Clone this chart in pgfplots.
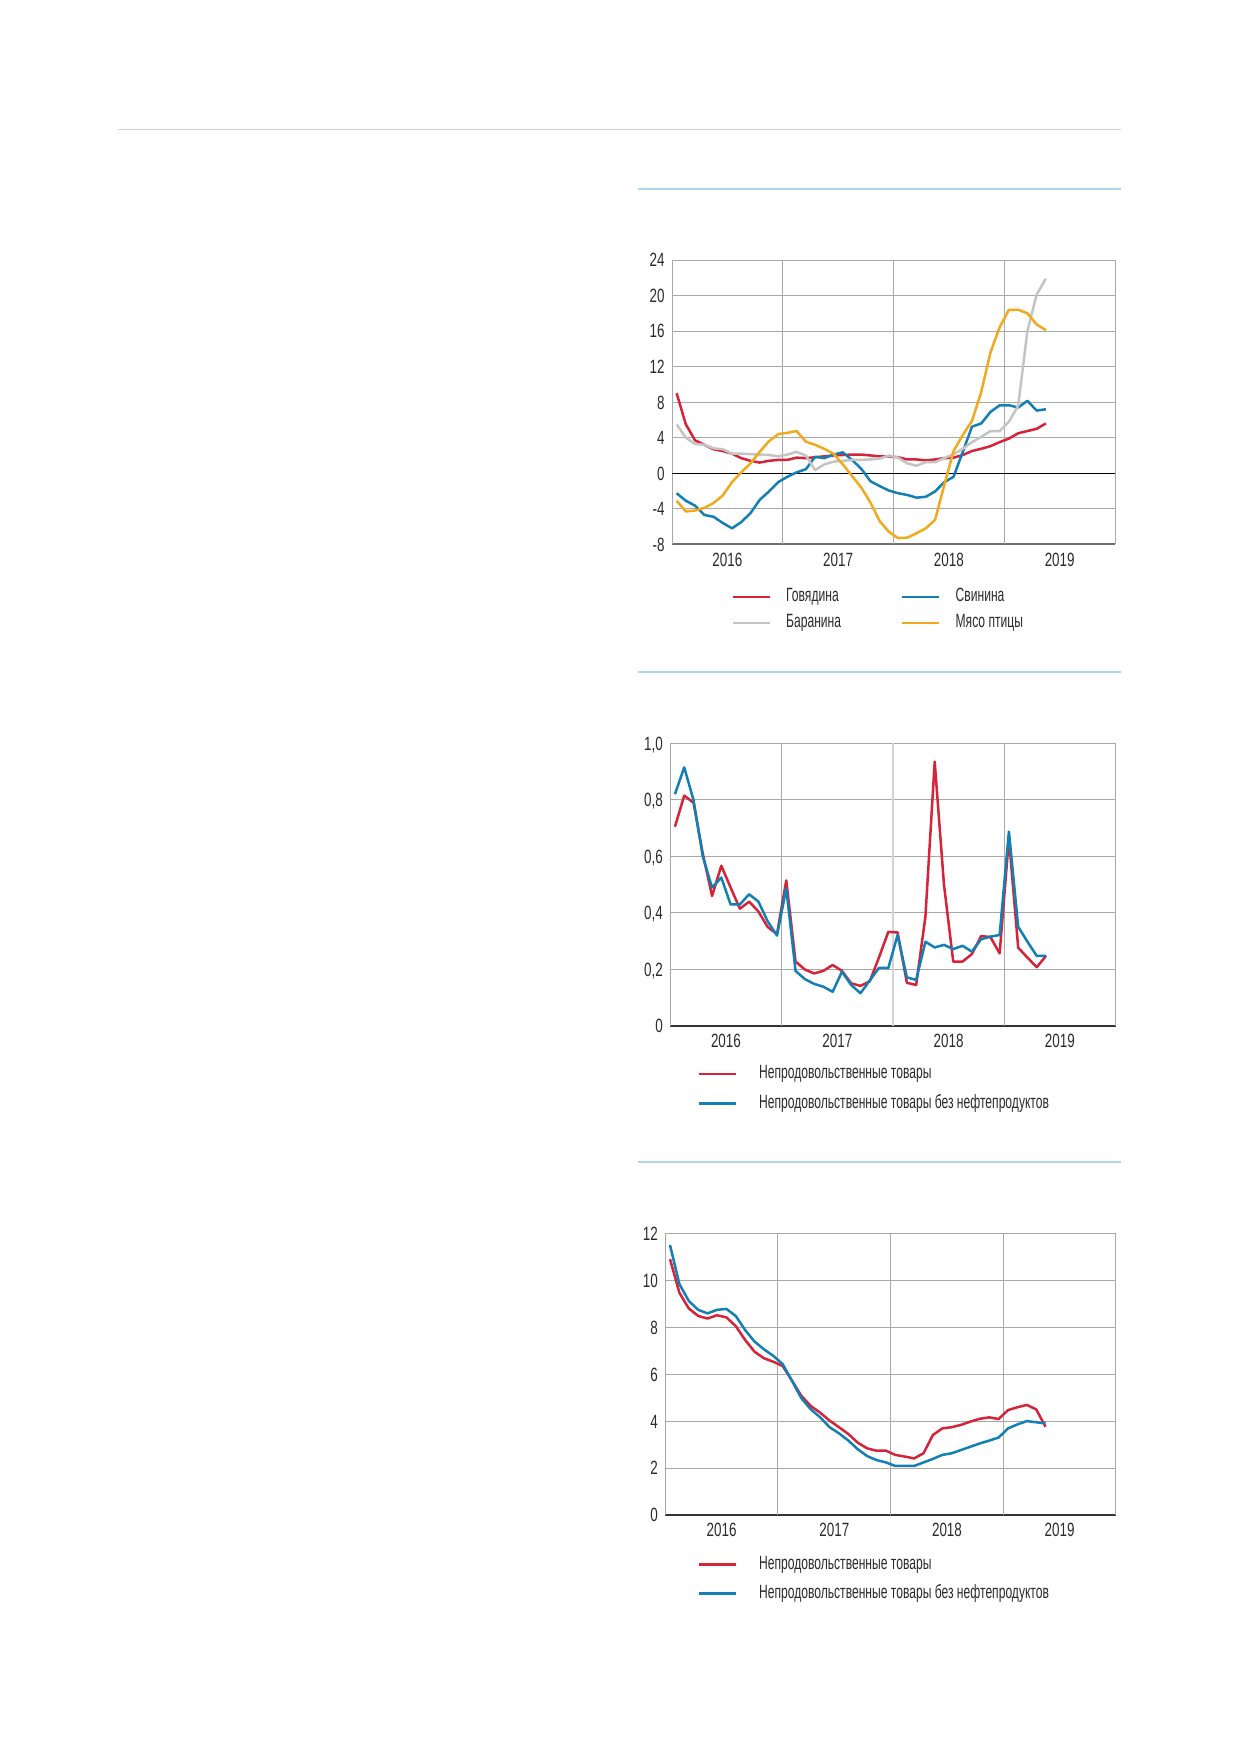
\documentclass[border=0pt]{standalone}
\usepackage{fontspec}
\setmainfont{Liberation Sans}[FakeStretch=0.70]
\newfontfamily\tickfont{Liberation Sans}[FakeStretch=0.70]
\newfontfamily\legfont{Liberation Sans}[FakeStretch=0.63]
\usepackage{pgfplots}
\pgfplotsset{compat=1.18}
\usepackage{pgfplotstable}

\definecolor{cRed}{HTML}{D7233A}
\definecolor{cBlue}{HTML}{1380B5}
\definecolor{cGrey}{HTML}{C4C4C4}
\definecolor{cYel}{HTML}{F2A91E}
\definecolor{ruleBlue}{HTML}{AED6EA}
\definecolor{ruleGrey}{HTML}{D2D2D2}
\definecolor{gridc}{HTML}{A8A8A8}
\definecolor{lightgridc}{HTML}{D4D4D4}
\definecolor{txt}{HTML}{2B2B2B}
\definecolor{axdark}{HTML}{333333}
\definecolor{axmid}{HTML}{707070}

\pgfplotstableread{
x gov svi bar pti
0.5 9.0 -2.25 5.5 -3.1
1.5 5.5 -3.1 4.0 -4.3
2.5 3.7 -3.65 3.3 -4.2
3.5 3.2 -4.7 3.2 -3.9
4.5 2.7 -4.9 2.8 -3.35
5.5 2.5 -5.6 2.7 -2.5
6.5 2.2 -6.2 2.2 -1.0
7.5 1.7 -5.5 2.2 0.1
8.5 1.4 -4.5 2.15 1.1
9.5 1.2 -3.0 2.1 2.4
10.5 1.4 -2.05 2.05 3.6
11.5 1.5 -1.0 1.9 4.4
12.5 1.5 -0.4 2.1 4.55
13.5 1.75 0.1 2.4 4.75
14.5 1.7 0.45 2.0 3.55
15.5 1.8 1.85 0.35 3.2
16.5 1.9 1.7 1.0 2.75
17.5 2.0 2.1 1.3 2.2
18.5 2.05 2.35 1.4 1.0
19.5 2.1 1.5 1.5 -0.3
20.5 2.1 0.5 1.5 -1.6
21.5 2.0 -0.9 1.55 -3.3
22.5 1.9 -1.45 1.65 -5.4
23.5 1.9 -1.95 2.0 -6.6
24.5 1.8 -2.25 1.75 -7.3
25.5 1.55 -2.45 1.1 -7.25
26.5 1.55 -2.75 0.85 -6.75
27.5 1.45 -2.65 1.25 -6.2
28.5 1.55 -2.05 1.25 -5.25
29.5 1.7 -1.0 1.7 -1.3
30.5 1.75 -0.4 2.15 2.5
31.5 2.05 2.4 2.75 4.3
32.5 2.5 5.25 3.5 5.9
33.5 2.75 5.6 4.1 9.15
34.5 3.05 6.9 4.75 13.6
35.5 3.5 7.65 4.75 16.45
36.5 3.9 7.65 5.8 18.4
37.5 4.5 7.4 7.6 18.4
38.5 4.75 8.15 16.0 18.0
39.5 5.0 7.05 20.1 16.75
40.5 5.6 7.2 21.9 16.1
}\meat

\pgfplotstableread{
x a b
0.5 0.705 0.82
1.5 0.815 0.915
2.5 0.79 0.8
3.5 0.61 0.6
4.5 0.46 0.49
5.5 0.567 0.525
6.5 0.49 0.43
7.5 0.415 0.43
8.5 0.44 0.466
9.5 0.405 0.44
10.5 0.35 0.37
11.5 0.325 0.32
12.5 0.515 0.487
13.5 0.228 0.195
14.5 0.2 0.166
15.5 0.186 0.149
16.5 0.195 0.139
17.5 0.216 0.121
18.5 0.195 0.192
19.5 0.151 0.145
20.5 0.142 0.116
21.5 0.158 0.161
22.5 0.243 0.206
23.5 0.333 0.205
24.5 0.331 0.322
25.5 0.153 0.172
26.5 0.145 0.163
27.5 0.387 0.298
28.5 0.935 0.278
29.5 0.5 0.287
30.5 0.228 0.272
31.5 0.228 0.284
32.5 0.254 0.263
33.5 0.318 0.307
34.5 0.315 0.316
35.5 0.257 0.322
36.5 0.664 0.688
37.5 0.277 0.351
38.5 0.242 0.298
39.5 0.208 0.248
40.5 0.248 0.248
}\nonfood

\pgfplotstableread{
x a b
0.5 10.9 11.5
1.5 9.47 9.84
2.5 8.8 9.12
3.5 8.48 8.74
4.5 8.37 8.59
5.5 8.51 8.74
6.5 8.42 8.78
7.5 8.05 8.48
8.5 7.46 7.88
9.5 6.96 7.39
10.5 6.68 7.06
11.5 6.53 6.78
12.5 6.35 6.43
13.5 5.72 5.71
14.5 5.07 4.97
15.5 4.64 4.5
16.5 4.36 4.16
17.5 4.02 3.74
18.5 3.74 3.48
19.5 3.45 3.17
20.5 3.08 2.8
21.5 2.84 2.51
22.5 2.74 2.34
23.5 2.74 2.24
24.5 2.56 2.09
25.5 2.49 2.09
26.5 2.41 2.09
27.5 2.63 2.24
28.5 3.41 2.39
29.5 3.69 2.56
30.5 3.74 2.63
31.5 3.84 2.77
32.5 3.98 2.91
33.5 4.1 3.05
34.5 4.16 3.17
35.5 4.09 3.3
36.5 4.47 3.69
37.5 4.59 3.86
38.5 4.69 4.0
39.5 4.5 3.95
40.5 3.76 3.9
}\core

\pgfplotsset{
  mystyle/.style={
    scale only axis, anchor=north west, xmin=0, xmax=48,
    axis x line=bottom, axis y line=left, axis line style={-},
    y axis line style={draw=gridc, line width=0.5pt},
    xtick={6,18,30,42}, xticklabels={2016,2017,2018,2019},
    extra x tick labels={},
    extra x tick style={grid=major},
    ymajorgrids=true, grid style={draw=gridc, line width=0.5pt},
    major tick length=0pt,
    tick label style={font=\tickfont\fontsize{9.6}{11}\selectfont, text=txt},
    xticklabel style={anchor=north, inner sep=0pt, yshift=-4.0pt},
    yticklabel style={anchor=east, inner sep=0pt, xshift=-3.5pt, text height=6.9pt, text depth=0pt},
    legend cell align=left,
    legend image code/.code={\draw[##1, line width=1.25pt] (0pt,0pt) -- (18.5pt,0pt);},
    every axis plot/.append style={line width=1.25pt, line join=round, mark=none},
  },
  leg/.style={draw=none, fill=none, inner sep=0pt, outer sep=0pt,
    font=\legfont\fontsize{9.6}{11}\selectfont, text=txt,
    nodes={inner sep=0pt, text height=6.8pt, text depth=2pt}},
}

\begin{document}
\begin{tikzpicture}
\fill[white] (0,0) rectangle (619.5pt,-876pt);
\path[use as bounding box] (0,0) rectangle (619.5pt,-876pt);
\draw[ruleGrey, line width=0.75pt] (59pt,-64.75pt) -- (560.5pt,-64.75pt);
\draw[ruleBlue, line width=0.75pt] (319pt,-94.5pt) -- (560.5pt,-94.5pt);
\draw[ruleBlue, line width=0.75pt] (319pt,-336pt) -- (560.5pt,-336pt);
\draw[ruleBlue, line width=0.75pt] (319pt,-581pt) -- (560.5pt,-581pt);

% Chart 1
\begin{axis}[mystyle, at={(336pt,-130pt)}, width=221.55pt, height=142.15pt,
  ymin=-8, ymax=24,
  ytick={-8,-4,4,8,12,16,20,24}, yticklabels={-8,-4,4,8,12,16,20,24},
  extra y ticks={0}, extra y tick labels={0},
  extra y tick style={grid=major, major grid style={draw=black, line width=0.6pt}},
  extra x ticks={12,24,36,48},
  x axis line style={draw=axmid, line width=0.9pt},
  legend columns=2,
  legend style={leg, at={(0.1347,-0.154)}, anchor=north west, row sep=4.2pt,
    /tikz/every odd column/.append style={column sep=7.5pt},
    /tikz/every even column/.append style={column sep=30pt}},
]
\addplot[cRed] table[x=x,y=gov] {\meat};
\addlegendentry{Говядина}
\addplot[cBlue] table[x=x,y=svi] {\meat};
\addlegendentry{Свинина}
\addplot[cGrey] table[x=x,y=bar] {\meat};
\addlegendentry{Баранина}
\addplot[cYel] table[x=x,y=pti] {\meat};
\addlegendentry{Мясо птицы}
\end{axis}

% Chart 2
\begin{axis}[mystyle, at={(335.15pt,-371.65pt)}, width=222.65pt, height=141.35pt,
  ymin=0, ymax=1,
  ytick={0,0.2,0.4,0.6,0.8,1}, yticklabels={0,{0,2},{0,4},{0,6},{0,8},{1,0}},
  extra x ticks={12,36,48},
  x axis line style={draw=axdark, line width=0.8pt},
  legend columns=1,
  legend style={leg, at={(0.0606,-0.139)}, anchor=north west, row sep=5.85pt,
    /tikz/every odd column/.append style={column sep=11.15pt}},
]
\addplot[draw=lightgridc, line width=1.1pt, forget plot] coordinates {(24,0) (24,1)};
\addplot[cRed] table[x=x,y=a] {\nonfood};
\addlegendentry{Непродовольственные товары}
\addplot[cBlue] table[x=x,y=b] {\nonfood};
\addlegendentry{Непродовольственные товары без нефтепродуктов}
\end{axis}

% Chart 3
\begin{axis}[mystyle, at={(332.65pt,-616.65pt)}, width=225.35pt, height=140.85pt,
  ymin=0, ymax=12,
  ytick={0,2,4,6,8,10,12}, yticklabels={0,2,4,6,8,10,12},
  extra x ticks={12,24,36,48},
  x axis line style={draw=axdark, line width=0.8pt},
  legend columns=1,
  legend style={leg, at={(0.071,-0.144)}, anchor=north west, row sep=5.85pt,
    /tikz/every odd column/.append style={column sep=11.15pt}},
]
\addplot[cRed] table[x=x,y=a] {\core};
\addlegendentry{Непродовольственные товары}
\addplot[cBlue] table[x=x,y=b] {\core};
\addlegendentry{Непродовольственные товары без нефтепродуктов}
\end{axis}
\end{tikzpicture}
\end{document}
